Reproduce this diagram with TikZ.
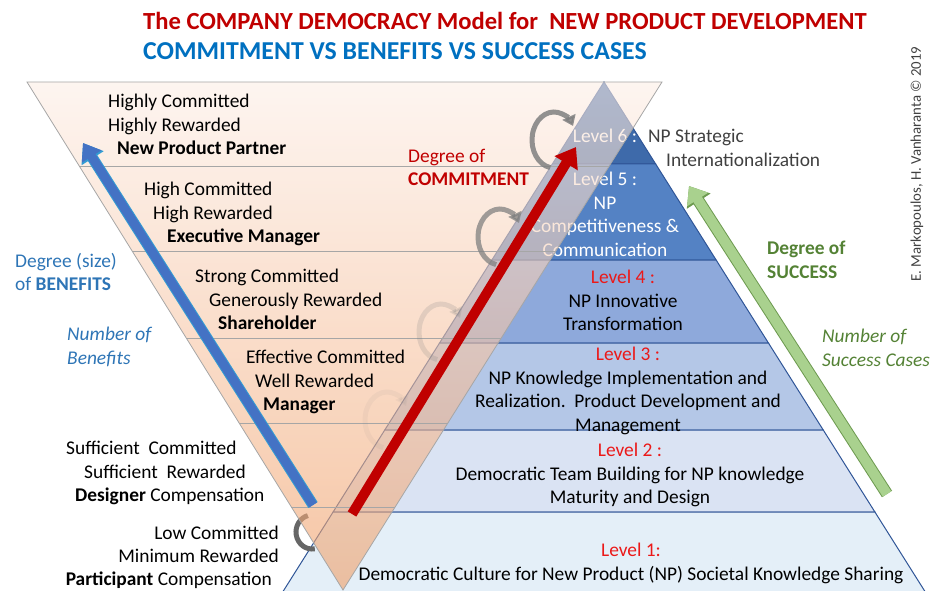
\documentclass[tikz,border=0pt]{standalone}
\usepackage{fontspec}
\setmainfont{Carlito}
\usetikzlibrary{arrows.meta}

\definecolor{titlered}{RGB}{192,0,0}
\definecolor{titleblue}{RGB}{0,112,192}
\definecolor{textblue}{RGB}{46,117,182}
\definecolor{lvsix}{RGB}{62,106,170}
\definecolor{lvfive}{RGB}{84,130,196}
\definecolor{lvfour}{RGB}{142,169,219}
\definecolor{lvthree}{RGB}{180,199,231}
\definecolor{lvtwo}{RGB}{218,227,243}
\definecolor{lvone}{RGB}{228,239,248}
\definecolor{lvline}{RGB}{47,85,151}
\definecolor{lvred}{RGB}{235,25,25}
\definecolor{peachtop}{RGB}{252,238,230}
\definecolor{peach}{RGB}{240,158,102}
\definecolor{benblue}{RGB}{68,114,196}
\definecolor{sucgreen}{RGB}{84,130,53}
\definecolor{arrgreen}{RGB}{169,209,142}

\newcommand{\bodyfont}{\fontsize{19.4}{23.5}\selectfont}
\newcommand{\headfont}{\bfseries\fontsize{24.6}{28}\selectfont}

\tikzset{
  band/.style={anchor=north west, align=left, inner sep=0pt, font=\bodyfont},
  lvtext/.style={anchor=north, align=center, inner sep=0pt, font=\bodyfont},
  bandline/.style={draw=gray!70, line width=0.8pt},
  turn/.style={line width=5pt, -{Triangle[width=14pt,length=10pt]}},
}

\begin{document}
\begin{tikzpicture}[x=1pt, y=-1pt]
  \clip (0,0) rectangle (932,591);

  % pyramid of success levels
  \foreach \ya/\yb/\col in {82/164/lvsix, 164/260/lvfive, 260/343/lvfour, 343/430/lvthree, 430/512/lvtwo, 512/610/lvone}
    \filldraw[fill=\col, draw=lvline, line width=1pt]
      ({604-0.63*(\ya-82)},\ya) -- ({604+0.63*(\ya-82)},\ya) -- ({604+0.63*(\yb-82)},\yb) -- ({604-0.63*(\yb-82)},\yb) -- cycle;

  \node[lvtext, text=white] (lvl6) at (605,129) {Level 6 :};
  \node[band, text=black!75] (strategic) at (648,129) {NP Strategic\\\hspace*{18pt}Internationalization};
  \node[lvtext, text=white] (lvl5) at (605,172) {Level 5 :\\NP\\Competitiveness \&\\Communication};
  \node[lvtext] (lvl4) at (623,270) {\textcolor{lvred}{Level 4 :}\\NP Innovative\\Transformation};
  \node[lvtext] (lvl3) at (628,347) {\textcolor{lvred}{Level 3 :}\\NP Knowledge Implementation and\\Realization.\ \ Product Development and\\Management};
  \node[lvtext] (lvl2) at (630,443) {\textcolor{lvred}{Level 2 :}\\Democratic Team Building for NP knowledge\\Maturity and Design};
  \node[lvtext] (lvl1) at (631,543) {\textcolor{lvred}{Level 1:}\\Democratic Culture for New Product (NP) Societal Knowledge Sharing};

  % turning arrow at the foot, half hidden
  \draw[turn, -, draw=black!60] (312,532) ++(80:16 and 17) arc[start angle=80, end angle=255, x radius=16, y radius=17];

  % commitment triangle
  \coordinate (otl) at (27,82);
  \coordinate (otr) at (662,82);
  \coordinate (oap) at (343,590);
  \shade[top color=peachtop, bottom color=peach, fill opacity=0.6] (otl) -- (otr) -- (oap) -- cycle;
  \foreach \y in {166,251,338,423,507}
    \draw[bandline] ({27+0.622*(\y-82)},\y) -- ({662-0.628*(\y-82)},\y);
  \draw[bandline] (otl) -- (otr) -- (oap) -- cycle;

  \foreach \cx/\cy/\op in {554/140/0.85, 500/237/0.75, 441/332/0.2, 387/420/0.08}
    \draw[turn, draw=gray, opacity=\op] (\cx,\cy) ++(100:22 and 28) arc[start angle=100, end angle=330, x radius=22, y radius=28];

  \node[band] (partner) at (108,94) {Highly Committed\\Highly Rewarded\\\hspace*{9pt}\textbf{New Product Partner}};
  \node[band] (executive) at (144,182) {High Committed\\\hspace*{9pt}High Rewarded\\\hspace*{23pt}\textbf{Executive Manager}};
  \node[band] (holder) at (195,269) {Strong Committed\\\hspace*{14pt}Generously Rewarded\\\hspace*{23pt}\textbf{Shareholder}};
  \node[band] (manager) at (246,350) {Effective Committed\\\hspace*{9pt}Well Rewarded\\\hspace*{17pt}\textbf{Manager}};
  \node[band] (designer) at (66,441) {Sufficient\ \ Committed\\\hspace*{18pt}Sufficient\ \ Rewarded\\\hspace*{9pt}\textbf{Designer} Compensation};
  \node[band, anchor=north east, align=right, font=\fontsize{19.4}{23}\selectfont] (participant) at (279,526) {Low Committed\\Minimum Rewarded\hspace*{3pt}\\\textbf{Participant} Compensation\hspace*{7pt}};

  \node[band, text=textblue] (benefits) at (15,253) {Degree (size)\\of \textbf{BENEFITS}};
  \node[band, text=textblue, font=\bodyfont\itshape] (nbenefits) at (67,327) {Number of\\Benefits};
  \node[band, text=titlered] (commit) at (408,149) {Degree of\\\textbf{COMMITMENT}};
  \node[band, text=sucgreen, font=\bodyfont\bfseries] (success) at (767,241) {Degree of\\SUCCESS};
  \node[band, text=sucgreen, font=\bodyfont\itshape] (nsuccess) at (822,329) {Number of\\Success Cases};

  % the three big arrows
  \coordinate (ben0) at (313,505);
  \coordinate (ben1) at (83,143);
  \coordinate (com0) at (352,514);
  \coordinate (com1) at (576,147);
  \coordinate (suc0) at (887,494);
  \coordinate (suc1) at (689,186);
  \draw[draw=benblue, line width=9pt, -{Triangle[width=22pt,length=16pt]},
    preaction={draw=cyan!60!benblue, line width=11pt, -{Triangle[width=25pt,length=18pt]}}] (ben0) -- (ben1);
  \draw[draw=titlered, line width=10pt, -{Triangle[width=26pt,length=19pt]}] (com0) -- (com1);
  \draw[draw=arrgreen, line width=10pt, -{Triangle[width=24pt,length=16pt]},
    preaction={draw=sucgreen!70!arrgreen, line width=12pt, -{Triangle[width=27pt,length=18pt]}}] (suc0) -- (suc1);

  \node[anchor=west, inner sep=0pt, font=\headfont, text=titlered] (title) at (143,20.5) {The COMPANY DEMOCRACY Model for\ \ NEW PRODUCT DEVELOPMENT};
  \node[anchor=west, inner sep=0pt, font=\bfseries\fontsize{25.8}{28}\selectfont, text=titleblue] (subtitle) at (143,51) {COMMITMENT VS BENEFITS VS SUCCESS CASES};
  \node[rotate=90, inner sep=0pt, font=\fontsize{14.8}{16}\selectfont, text=black!75] (copyright) at (917,164) {E. Markopoulos, H. Vanharanta © 2019};
\end{tikzpicture}
\end{document}
